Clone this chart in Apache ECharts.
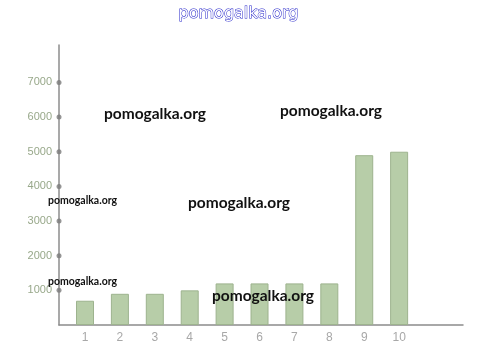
<!DOCTYPE html>
<html><head><meta charset="utf-8">
<script src="https://cdn.jsdelivr.net/npm/echarts@6/dist/echarts.min.js"></script>
<style>html,body{margin:0;padding:0;background:#fff}#c{width:477px;height:362px}</style>
</head><body><div id="c"></div>
<script>
const categories = [1, 2, 3, 4, 5, 6, 7, 8, 9, 10];
const values = [700, 900, 900, 1000, 1200, 1200, 1200, 1200, 4900, 5000];
const yTicks = [1000, 2000, 3000, 4000, 5000, 6000, 7000];
const watermark = 'pomogalka.org';

const chart = echarts.init(document.getElementById('c'));
const wm = (left, top, size) => ({ type: 'text', left, top, z: 100, zlevel: 1,
  style: { text: watermark, font: 'bold ' + size + 'px Lato', fill: '#111' } });
chart.setOption({
  backgroundColor: '#ffffff',
  animation: false,
  title: {
    text: watermark, left: 'center', top: 1,
    textStyle: { fontFamily: 'DejaVu Sans', fontSize: 16, fontWeight: 'normal',
      color: '#ffffff', textBorderColor: '#1f1fc8', textBorderWidth: 1 }
  },
  grid: { left: 59, right: 14, top: 45, bottom: 37 },
  xAxis: {
    type: 'value', min: 0.255, max: 11.83,
    splitLine: { show: false },
    axisLine: { show: true, lineStyle: { color: '#8c8c8c', width: 1.5 } },
    axisTick: { show: false },
    axisLabel: { customValues: categories, color: '#a8a8a8', fontSize: 12,
      fontFamily: 'Liberation Sans', margin: 7 }
  },
  yAxis: {
    type: 'value', min: 0, max: 8080,
    splitLine: { show: false },
    axisLine: { show: true, lineStyle: { color: '#8c8c8c', width: 1.5 } },
    axisTick: { show: false },
    axisLabel: { customValues: yTicks, color: '#98a88a', fontSize: 11,
      fontFamily: 'Liberation Sans', margin: 7, formatter: v => String(v) }
  },
  series: [{
    type: 'bar', barWidth: 18,
    data: categories.map((c, i) => [c, values[i]]),
    itemStyle: { color: '#b7cda8', borderColor: '#9db38e', borderWidth: 1 }
  }, {
    type: 'scatter', symbolSize: 5, silent: true,
    data: yTicks.map(v => [0.255, v]),
    itemStyle: { color: '#7a7a7a' }, clip: false
  }],
  graphic: [
    wm(104, 106, 15.5), wm(280, 103, 15.5), wm(188, 195, 15.5), wm(212, 288, 15.5),
    wm(48, 195, 10.5), wm(48, 276, 10.5)
  ]
});
</script></body></html>
